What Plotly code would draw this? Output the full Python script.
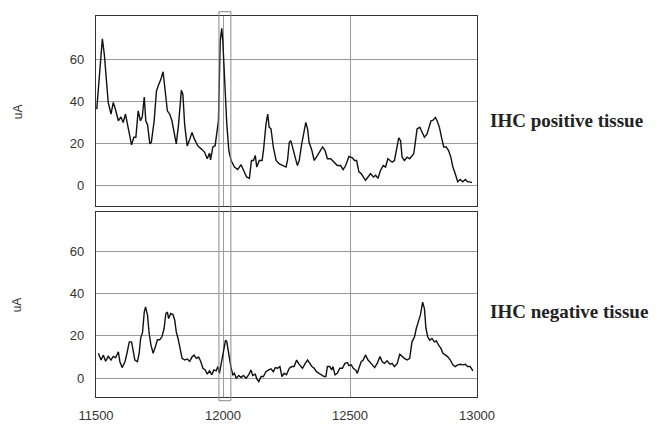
import plotly.graph_objects as go
from plotly.subplots import make_subplots

# IHC positive tissue trace
pos_mz = [11503, 11525, 11533, 11542, 11548, 11559, 11568, 11577, 11588, 11598, 11607, 11616,
          11627, 11640, 11649, 11657, 11666, 11675, 11682, 11690, 11696, 11703, 11712, 11718,
          11729, 11738, 11747, 11755, 11764, 11771, 11781, 11790, 11799, 11816, 11825, 11836,
          11842, 11849, 11859, 11869, 11878, 11888, 11901, 11914, 11927, 11938, 11947, 11951,
          11960, 11969, 11977, 11982, 11989, 11995, 11999, 12005, 12010, 12015, 12023, 12032,
          12045, 12058, 12071, 12080, 12093, 12104, 12112, 12120, 12127, 12133, 12143, 12154,
          12160, 12169, 12176, 12182, 12189, 12198, 12209, 12222, 12235, 12248, 12254, 12261,
          12267, 12276, 12284, 12293, 12300, 12310, 12320, 12326, 12333, 12339, 12350, 12359,
          12372, 12385, 12392, 12402, 12411, 12424, 12437, 12450, 12463, 12473, 12483, 12487,
          12496, 12509, 12518, 12526, 12535, 12544, 12552, 12561, 12571, 12581, 12592, 12601,
          12610, 12620, 12631, 12640, 12649, 12657, 12666, 12675, 12683, 12692, 12699, 12705,
          12714, 12725, 12735, 12744, 12751, 12758, 12764, 12775, 12784, 12793, 12803, 12810,
          12819, 12827, 12836, 12843, 12852, 12862, 12869, 12879, 12888, 12897, 12905, 12914,
          12924, 12934, 12944, 12954, 12963, 12973, 12980]
pos_ua = [36.3, 69.6, 62.0, 49.6, 39.6, 34.0, 39.5, 36.0, 30.8, 32.6, 30.0, 34.0,
          27.7, 19.4, 23.0, 23.0, 35.5, 30.8, 32.6, 42.0, 30.8, 29.0, 19.9, 20.7,
          30.8, 44.9, 48.0, 50.3, 54.0, 44.9, 35.5, 34.0, 30.8, 19.9, 29.0, 45.2,
          43.4, 29.0, 18.9, 22.0, 25.3, 22.0, 18.9, 17.5, 16.0, 12.8, 15.5, 12.3,
          18.4, 19.0, 26.9, 30.8, 68.4, 74.6, 69.0, 52.7, 40.0, 29.0, 16.7, 12.0,
          8.9, 7.7, 10.0, 7.7, 4.2, 3.5, 12.0, 12.0, 14.4, 8.9, 12.0, 12.0,
          17.5, 29.0, 34.0, 27.7, 27.0, 18.4, 12.0, 10.4, 9.6, 8.9, 12.0, 20.6,
          21.4, 16.7, 13.6, 9.6, 12.0, 19.9, 27.0, 30.0, 27.0, 20.6, 16.7, 12.0,
          14.4, 16.7, 18.4, 16.7, 12.8, 12.8, 11.2, 9.6, 9.6, 7.7, 9.6, 11.2,
          13.9, 13.3, 12.0, 12.0, 6.6, 5.8, 4.2, 2.6, 4.2, 5.8, 4.2, 5.0,
          3.5, 7.3, 9.6, 8.9, 12.8, 12.0, 11.2, 12.0, 16.7, 22.7, 21.4, 13.6,
          12.0, 13.6, 12.8, 14.4, 15.2, 21.4, 26.9, 27.7, 25.3, 23.0, 24.5, 26.9,
          30.8, 31.1, 32.4, 30.8, 27.7, 22.0, 18.4, 18.4, 16.7, 13.6, 8.9, 5.8,
          1.9, 3.0, 1.9, 3.0, 1.9, 1.9, 1.5]

# IHC negative tissue trace
neg_mz = [11509, 11520, 11529, 11538, 11548, 11559, 11568, 11577, 11588, 11594, 11603, 11614,
          11622, 11631, 11640, 11646, 11653, 11663, 11670, 11676, 11683, 11690, 11695, 11703,
          11709, 11716, 11725, 11734, 11742, 11751, 11760, 11768, 11775, 11781, 11786, 11794,
          11803, 11810, 11816, 11823, 11832, 11839, 11849, 11859, 11869, 11878, 11886, 11895,
          11904, 11912, 11921, 11930, 11938, 11947, 11956, 11964, 11973, 11980, 11986, 11995,
          12003, 12010, 12015, 12023, 12032, 12039, 12045, 12052, 12062, 12071, 12080, 12091,
          12101, 12110, 12117, 12127, 12133, 12141, 12150, 12159, 12169, 12180, 12189, 12198,
          12206, 12215, 12224, 12232, 12241, 12250, 12261, 12271, 12280, 12290, 12297, 12307,
          12313, 12324, 12333, 12342, 12350, 12359, 12368, 12378, 12389, 12398, 12405, 12411,
          12420, 12428, 12433, 12441, 12450, 12460, 12470, 12480, 12490, 12496, 12505, 12513,
          12522, 12529, 12535, 12544, 12552, 12561, 12571, 12578, 12588, 12597, 12607, 12618,
          12627, 12636, 12646, 12657, 12666, 12675, 12686, 12696, 12705, 12714, 12725, 12735,
          12744, 12754, 12761, 12771, 12777, 12786, 12793, 12799, 12806, 12814, 12823, 12832,
          12840, 12849, 12858, 12866, 12875, 12884, 12895, 12905, 12914, 12924, 12934, 12944,
          12954, 12963, 12973, 12984]
neg_ua = [11.8, 8.6, 10.9, 8.0, 10.3, 8.6, 10.3, 9.7, 12.5, 7.8, 5.0, 7.8,
          11.8, 17.2, 17.2, 12.5, 8.6, 7.8, 11.8, 19.1, 21.4, 31.3, 33.7, 29.7,
          21.4, 15.9, 11.8, 15.0, 18.2, 18.2, 19.7, 23.5, 30.6, 31.3, 28.2, 30.6,
          30.1, 27.4, 21.9, 18.8, 14.0, 9.4, 8.6, 9.1, 8.0, 10.0, 10.9, 9.4,
          10.0, 8.0, 4.7, 3.9, 1.9, 3.5, 1.6, 3.9, 3.5, 5.5, 2.3, 8.6,
          14.0, 18.0, 17.2, 10.9, 4.7, 1.6, 2.3, 0.0, 1.3, 0.3, 1.3, 0.0,
          1.6, 3.9, 1.3, 1.9, -0.3, -1.6, 0.8, 0.8, 3.1, 3.9, 4.4, 3.1,
          5.0, 4.7, 5.5, 0.8, 2.3, 1.6, 4.7, 5.5, 5.5, 8.6, 7.0, 5.5,
          4.7, 7.0, 8.6, 7.0, 5.5, 4.7, 3.1, 2.3, 1.6, 0.8, 0.8, 5.5,
          5.5, 3.9, 5.5, 1.6, 2.3, 4.7, 4.7, 7.0, 7.4, 5.9, 6.3, 4.7,
          3.9, 2.3, 4.7, 7.8, 8.6, 11.0, 8.6, 7.8, 6.3, 5.0, 7.0, 10.2,
          7.8, 7.0, 8.2, 6.6, 7.0, 5.5, 7.0, 11.3, 10.2, 9.4, 8.6, 9.4,
          17.2, 19.6, 23.5, 28.2, 29.8, 36.0, 32.9, 23.5, 19.6, 18.0, 18.8, 17.2,
          17.6, 15.6, 14.1, 11.8, 11.0, 10.2, 8.6, 6.3, 5.5, 6.3, 6.6, 6.3,
          6.6, 5.5, 5.5, 3.5]

x_ticks = [11500, 12000, 12500, 13000]
x_ticktext = ["11500", "12000", "12500", "13000"]
y_ticks = [0, 20, 40, 60]
labels = ["IHC positive tissue", "IHC negative tissue"]
highlight = [11984, 12031]

fig = make_subplots(rows=2, cols=1, shared_xaxes=False, vertical_spacing=0.0)

fig.add_trace(go.Scatter(x=pos_mz, y=pos_ua, mode="lines",
                         line=dict(color="#111111", width=1.4), showlegend=False), row=1, col=1)
fig.add_trace(go.Scatter(x=neg_mz, y=neg_ua, mode="lines",
                         line=dict(color="#111111", width=1.4), showlegend=False), row=2, col=1)

axis_common = dict(showline=True, mirror=True, linecolor="#333333", linewidth=1.3,
                   showgrid=True, gridcolor="#9a9a9a", gridwidth=1, zeroline=False,
                   automargin=False)

fig.update_xaxes(range=[11500, 13000], tickvals=x_ticks, ticktext=x_ticktext, **axis_common)
fig.update_xaxes(showticklabels=False, row=1, col=1)
fig.update_xaxes(ticks="outside", ticklen=6, tickcolor="rgba(0,0,0,0)",
                 tickfont=dict(family="Liberation Sans, Arial", size=13, color="#333333"),
                 row=2, col=1)
fig.update_yaxes(tickvals=y_ticks, ticks="outside", ticklen=8, tickcolor="rgba(0,0,0,0)",
                 tickfont=dict(family="Liberation Sans, Arial", size=13, color="#333333"),
                 **axis_common)
fig.update_yaxes(range=[-9.6, 80.4], row=1, col=1)
fig.update_yaxes(range=[-8.9, 78.7], row=2, col=1)

fig.update_layout(
    yaxis=dict(domain=[0.501, 1.0]),
    yaxis2=dict(domain=[0.0, 0.486]),
    width=659, height=424,
    margin=dict(l=96, r=182, t=16, b=27),
    paper_bgcolor="white", plot_bgcolor="white",
)

# highlight box across both panels
fig.add_shape(type="rect", xref="x", yref="paper", x0=highlight[0], x1=highlight[1],
              y0=-0.0097, y1=1.0113, line=dict(color="#8a8a8a", width=1),
              fillcolor="rgba(0,0,0,0)")

# y-axis titles
for yc in [0.75, 0.243]:
    fig.add_annotation(text="uA", xref="paper", yref="paper", x=-0.205, y=yc,
                       textangle=-90, showarrow=False, xanchor="center", yanchor="middle",
                       font=dict(family="Liberation Sans, Arial", size=12, color="#333333"))

# side labels
for lab, yc in zip(labels, [0.727, 0.225]):
    fig.add_annotation(text="<b>" + lab + "</b>", xref="paper", yref="paper", x=1.03, y=yc,
                       showarrow=False, xanchor="left", yanchor="middle",
                       font=dict(family="Liberation Serif, Times New Roman", size=19,
                                 color="#222222"))

fig.write_html("out.html")
